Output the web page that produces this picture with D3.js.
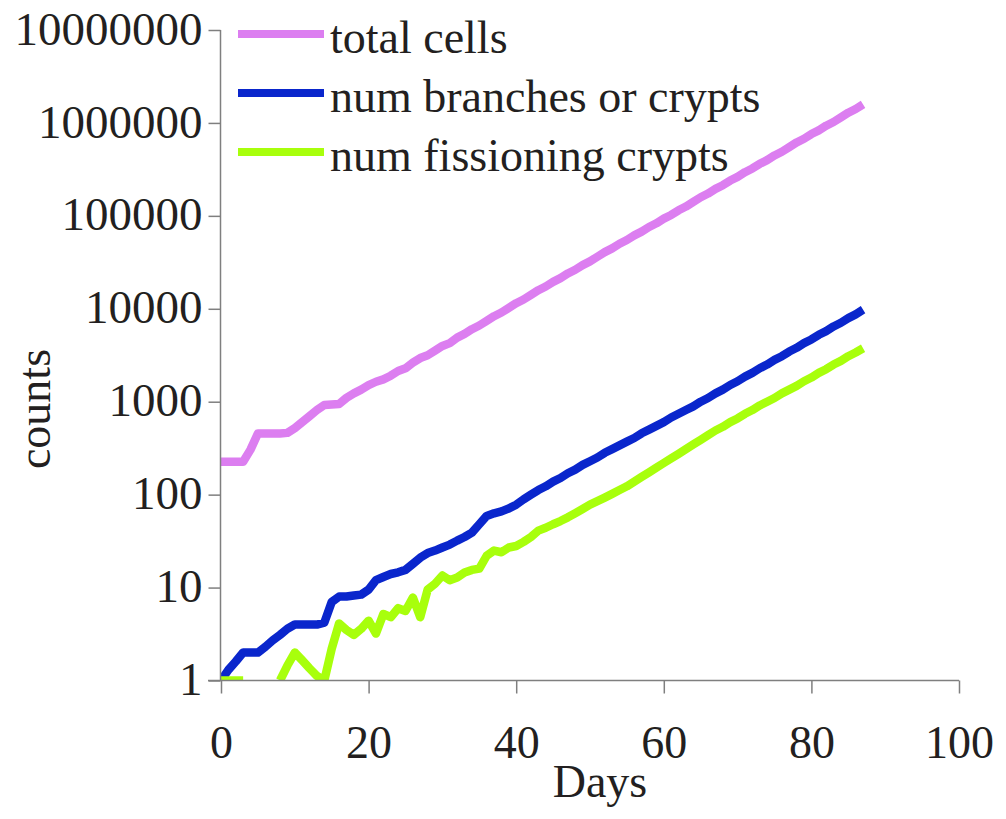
<!DOCTYPE html>
<html>
<head>
<meta charset="utf-8">
<script src="https://cdn.jsdelivr.net/npm/d3@7"></script>
<style>
  html, body { margin: 0; padding: 0; background: #fff; }
  svg { display: block; }
  text { font-family: "Liberation Serif", "Times New Roman", serif; fill: #231f20; }
</style>
</head>
<body>
<svg id="chart" width="1006" height="819"></svg>
<script>
// ---- data ----
const days = [0,1,2,3,4,5,6,7,8,9,10,11,12,13,14,15,16,17,18,19,20,21,22,23,24,25,26,27,28,29,
  30,31,32,33,34,35,36,37,38,39,40,41,42,43,44,45,46,47,48,49,50,51,52,53,54,55,56,57,58,59,
  60,61,62,63,64,65,66,67,68,69,70,71,72,73,74,75,76,77,78,79,80,81,82,83,84,85,86,87];

const totalCells = [226,226,226,226,305,455,455,455,455,462,520,603,700,813,923,935,945,1100,1230,1350,
  1510,1640,1740,1905,2140,2290,2630,2950,3160,3550,3980,4270,4900,5370,6030,6610,7410,8320,9120,10230,
  11480,12590,14130,15850,17380,19500,21380,23990,26300,29510,32360,36310,40740,44670,50120,54950,61660,67610,75860,83180,
  93330,102300,114800,125900,141300,158500,173800,195000,213800,239900,263000,295100,323600,363100,398100,446700,489800,549500,616600,676100,
  758600,831800,933300,1023000,1148000,1288000,1413000,1585000];

const numBranches = [1,1.3,1.6,2,2,2,2.3,2.7,3.1,3.6,4,4,4,4,4.2,7,8,8,8.2,8.4,
  9.5,12,13,14,14.6,15.5,18,21,23.5,25,27,29,32,35,39,48,59,63,66,71,
  78,89,100,112,123,138,151,170,186,209,229,251,282,309,339,372,407,457,501,550,
  603,676,741,813,891,1000,1096,1230,1349,1514,1660,1862,2042,2291,2512,2818,3090,3467,3802,4266,
  4677,5248,5754,6457,7079,7943,8710,9772];

const numFissioning = [1,1,1,1,0,0,0,0,1,1.45,2,1.65,1.35,1.12,1,2.2,4.1,3.5,3.1,3.6,
  4.4,3.2,5.2,4.8,6,5.6,7.8,4.8,9.5,11,13.5,12,12.8,14.5,15.5,16,22,25,24,27,
  28,31,35,41,44,48,52,57,63,70,78,85,93,102,112,123,138,155,174,195,
  219,245,275,309,347,389,437,490,537,603,661,741,813,912,1000,1096,1230,1349,1479,1660,
  1820,2042,2239,2512,2754,3090,3388,3758];

const seriesNames = ["total cells", "num branches or crypts", "num fissioning crypts"];
const seriesColors = ["#dc7ef0", "#0a26cc", "#a8ff0c"];
const xTicks = [0, 20, 40, 60, 80, 100];
const yTicks = [1, 10, 100, 1000, 10000, 100000, 1000000, 10000000];
const xTitle = "Days";
const yTitle = "counts";

// ---- layout ----
const svg = d3.select("#chart");
const X0 = 221, X1 = 959, Y0 = 680.5, Y1 = 30;
const axisColor = "#7f7f7f";
const fontSize = 46;

const x = d3.scaleLinear().domain([0, 100]).range([X0, X1]);
const y = d3.scaleLog().domain([1, 1e7]).range([Y0, Y1]);

svg.append("defs").append("clipPath").attr("id", "plotclip")
  .append("rect").attr("x", X0 - 1).attr("y", Y1 - 2).attr("width", X1 - X0 + 2).attr("height", Y0 - Y1 + 2);

// ---- series ----
const allSeries = [totalCells, numBranches, numFissioning];
const line = d3.line()
  .defined(d => d.v > 0)
  .x(d => x(d.d))
  .y(d => y(d.v));

const gLines = svg.append("g").attr("clip-path", "url(#plotclip)");
allSeries.forEach((vals, i) => {
  const data = days.map((d, k) => ({ d: d, v: vals[k] }));
  gLines.append("path")
    .datum(data)
    .attr("d", line)
    .attr("fill", "none")
    .attr("stroke", seriesColors[i])
    .attr("stroke-width", 8.5)
    .attr("stroke-linejoin", "round")
    .attr("stroke-linecap", "butt");
});

// ---- axes ----
const yAxis = d3.axisLeft(y)
  .tickValues(yTicks)
  .tickFormat(d3.format("d"))
  .tickSize(12)
  .tickPadding(6);
const gy = svg.append("g").attr("transform", `translate(${X0 - 0.5},0)`).call(yAxis);
gy.select(".domain").attr("stroke", axisColor).attr("stroke-width", 1.5)
  .attr("d", `M0,${Y1}V${Y0}`);
gy.selectAll(".tick line").attr("stroke", axisColor).attr("stroke-width", 1.5);
gy.selectAll(".tick text")
  .attr("font-size", fontSize + 1)
  .attr("fill", "#231f20")
  .attr("dy", "0.3em")
  .style("font-family", '"Liberation Serif", "Times New Roman", serif');

const xAxis = d3.axisBottom(x)
  .tickValues(xTicks)
  .tickFormat(d3.format("d"))
  .tickSize(13)
  .tickPadding(36);
const gx = svg.append("g").attr("transform", `translate(0,${Y0})`).call(xAxis);
gx.select(".domain").attr("stroke", axisColor).attr("stroke-width", 1.5)
  .attr("d", `M${X0 - 13},0H${X1}`);
gx.selectAll(".tick line").attr("stroke", axisColor).attr("stroke-width", 1.5);
gx.selectAll(".tick text")
  .attr("font-size", fontSize)
  .attr("fill", "#231f20")
  .attr("dy", null)
  .attr("y", 77)
  .style("font-family", '"Liberation Serif", "Times New Roman", serif');

// ---- titles ----
svg.append("text")
  .attr("x", 600).attr("y", 797)
  .attr("text-anchor", "middle")
  .attr("font-size", fontSize)
  .text(xTitle);

svg.append("text")
  .attr("transform", "translate(50,409) rotate(-90)")
  .attr("text-anchor", "middle")
  .attr("font-size", fontSize)
  .text(yTitle);

// ---- legend ----
const legendY = [34, 93, 152];
const lg = svg.append("g");
seriesNames.forEach((name, i) => {
  lg.append("line")
    .attr("x1", 238).attr("x2", 324)
    .attr("y1", legendY[i]).attr("y2", legendY[i])
    .attr("stroke", seriesColors[i])
    .attr("stroke-width", 8);
  lg.append("text")
    .attr("x", 330).attr("y", legendY[i] + 18.5)
    .attr("font-size", fontSize)
    .text(name);
});
</script>
</body>
</html>
